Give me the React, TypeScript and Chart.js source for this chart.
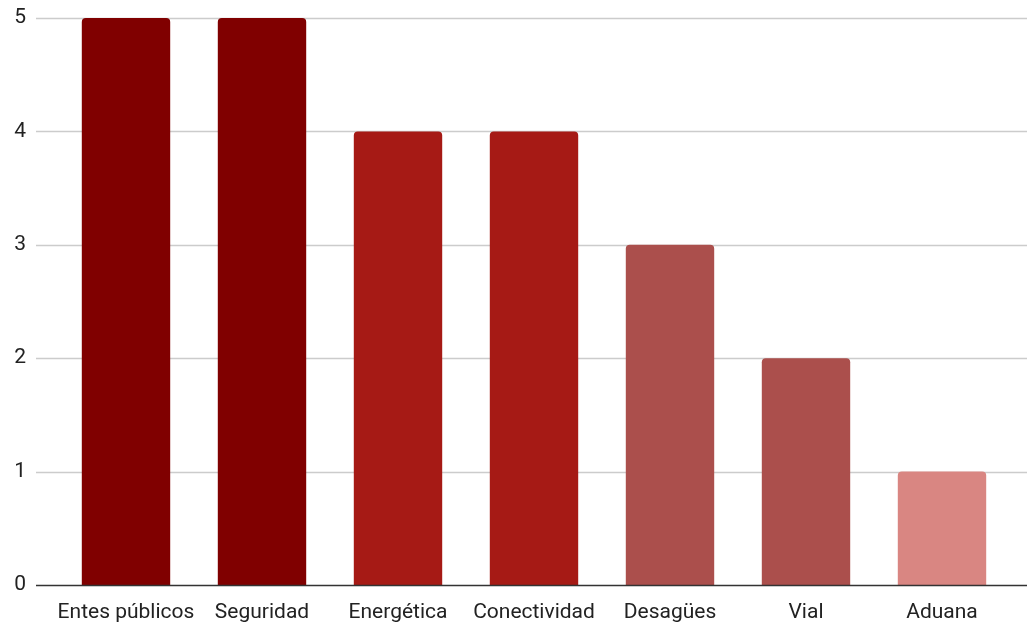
import React, { useEffect, useRef } from "react";
import { Chart, registerables } from "chart.js";

Chart.register(...registerables);

const categories = ["Entes públicos", "Seguridad", "Energética", "Conectividad", "Desagües", "Vial", "Aduana"];
const values = [5, 5, 4, 4, 3, 2, 1];
const barColors = ["#800000", "#800000", "#a61a15", "#a61a15", "#ab4f4c", "#ab4f4c", "#d98682"];
const yTicks = [0, 1, 2, 3, 4, 5];

const gridPlugin = {
  id: "fullGrid",
  beforeDatasetsDraw(chart: any) {
    const { ctx, scales } = chart;
    const y = scales.y;
    const left = 36;
    const right = chart.width;
    ctx.save();
    yTicks.forEach((t) => {
      const py = Math.round(y.getPixelForValue(t)) + 0.5;
      if (t === 0) return;
      ctx.strokeStyle = "#cccccc";
      ctx.lineWidth = 1.5;
      ctx.beginPath();
      ctx.moveTo(left, py);
      ctx.lineTo(right, py);
      ctx.stroke();
    });
    ctx.restore();
  },
  afterDatasetsDraw(chart: any) {
    const { ctx, scales } = chart;
    const y = scales.y;
    const py = Math.round(y.getPixelForValue(0)) + 0.5;
    ctx.save();
    ctx.strokeStyle = "#333333";
    ctx.lineWidth = 1.5;
    ctx.beginPath();
    ctx.moveTo(36, py);
    ctx.lineTo(chart.width, py);
    ctx.stroke();
    ctx.restore();
  },
};

export default function App() {
  const ref = useRef<HTMLCanvasElement>(null);
  useEffect(() => {
    const chart = new Chart(ref.current!, {
      type: "bar",
      data: {
        labels: categories,
        datasets: [
          {
            data: values,
            backgroundColor: barColors,
            borderRadius: { topLeft: 4, topRight: 4, bottomLeft: 0, bottomRight: 0 },
            borderSkipped: false,
            categoryPercentage: 1,
            barPercentage: 0.65,
          },
        ],
      },
      options: {
        animation: false,
        responsive: false,
        maintainAspectRatio: false,
        layout: { padding: { top: 18, right: 17, left: 0, bottom: 0 } },
        plugins: { legend: { display: false }, tooltip: { enabled: false } },
        scales: {
          x: {
            grid: { display: false },
            border: { display: false },
            ticks: {
              font: { family: "Roboto", size: 21 },
              color: "#222222",
              padding: 7,
              maxRotation: 0,
              autoSkip: false,
            },
            afterFit(scale: any) {
              scale.height = 41;
              scale.paddingLeft = 0;
              scale.paddingRight = 0;
            },
          },
          y: {
            min: 0,
            max: 5,
            grid: { display: false },
            border: { display: false },
            ticks: {
              stepSize: 1,
              font: { family: "Roboto", size: 21 },
              color: "#222222",
              padding: 24,
            },
            afterFit(scale: any) {
              scale.width = 58;
              scale.paddingTop = 0;
              scale.paddingBottom = 0;
            },
          },
        },
      },
      plugins: [gridPlugin],
    });
    return () => chart.destroy();
  }, []);
  return (
    <div style={{ position: "fixed", left: 0, top: 0, width: 1027, height: 626, background: "#fff" }}>
      <canvas ref={ref} width={1027} height={626} style={{ display: "block" }} />
    </div>
  );
}
